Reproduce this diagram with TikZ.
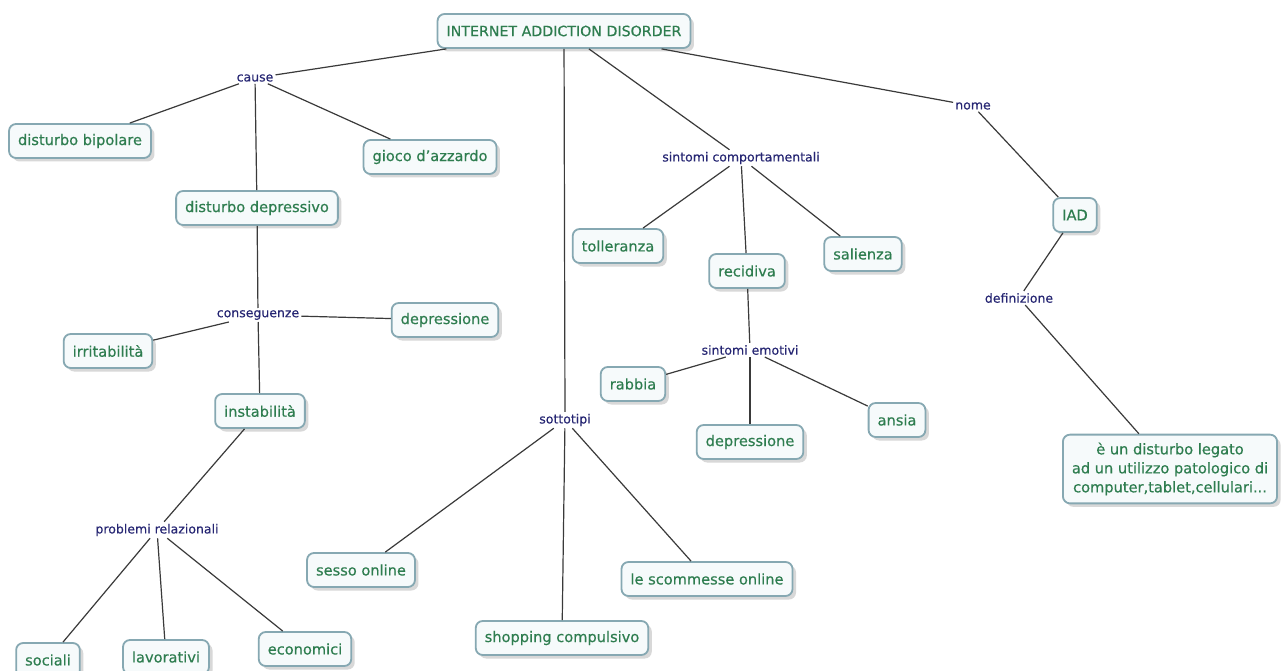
\documentclass[tikz,border=0pt]{standalone}
\usepackage{fontspec}
\setmainfont{DejaVu Sans}
\newfontfamily\conceptfont{DejaVu Sans}[FakeBold=0.5]
\newfontfamily\linkfont{DejaVu Sans}[FakeBold=0.3]
\usepackage{tikz}
\usetikzlibrary{positioning,shadows}
\definecolor{boxline}{HTML}{86A8B2}
\definecolor{boxfill}{HTML}{F6FAFB}
\definecolor{conceptgreen}{HTML}{2E7D4F}
\definecolor{linknavy}{HTML}{262673}
\definecolor{edgegray}{HTML}{3A3A3A}
\tikzset{main concept/.style={rectangle,rounded corners=7pt,draw=boxline,line width=1.8pt,fill=boxfill,text=conceptgreen,font=\conceptfont\fontsize{14.6}{19}\selectfont,minimum height=34pt,inner xsep=9pt,inner ysep=5pt,drop shadow={shadow xshift=3.5pt,shadow yshift=-3.5pt,fill=gray!60}},}
\tikzset{main link/.style={rectangle,text=linknavy,font=\linkfont\fontsize{12.5}{15}\selectfont,inner sep=2pt},}

\begin{document}
\begin{tikzpicture}[x=1pt,y=-1pt]
    \useasboundingbox[fill=white] (0,0) rectangle (1285,671);
    \node[main concept,font=\conceptfont\fontsize{14.2}{19}\selectfont] (root) at (564,31) {INTERNET ADDICTION DISORDER};
    \node[main link] (cause) at (255,78) {cause};
    \node[main concept] (bipolare) at (80,141) {disturbo bipolare};
    \node[main concept] (azzardo) at (430,157) {gioco d’azzardo};
    \node[main concept] (depressivo) at (257,208) {disturbo depressivo};
    \node[main link] (conseguenze) at (258,315) {conseguenze};
    \node[main concept] (depressione1) at (445,320) {depressione};
    \node[main concept] (irritabilita) at (108,351) {irritabilità};
    \node[main concept] (instabilita) at (260,411) {instabilità};
    \node[main link] (problemi) at (157,530) {problemi relazionali};
    \node[main concept] (sociali) at (48,660) {sociali};
    \node[main concept] (lavorativi) at (166,657) {lavorativi};
    \node[main concept] (economici) at (305,649) {economici};

    \node[main link] (sottotipi) at (565,420) {sottotipi};
    \node[main concept] (sesso) at (361,570) {sesso online};
    \node[main concept] (shopping) at (562,638) {shopping compulsivo};
    \node[main concept] (scommesse) at (707,579) {le scommesse online};

    \node[main link] (comportamentali) at (741,158) {sintomi comportamentali};
    \node[main concept] (tolleranza) at (618,246) {tolleranza};
    \node[main concept] (recidiva) at (747,271) {recidiva};
    \node[main concept] (salienza) at (863,254) {salienza};
    \node[main link] (emotivi) at (750,350) {sintomi emotivi};
    \node[main concept] (rabbia) at (633,384) {rabbia};
    \node[main concept] (depressione2) at (750,442) {depressione};
    \node[main concept] (ansia) at (897,420) {ansia};

    \node[main link] (nome) at (973,106) {nome};
    \node[main concept] (iad) at (1075,215) {IAD};
    \node[main link] (definizione) at (1019,298) {definizione};
    \node[main concept,align=center,inner ysep=8pt] (testo) at (1170,469) {è un disturbo legato\\ad un utilizzo patologico di\\computer,tablet,cellulari...};

    \begin{scope}[edgegray,line width=1.2pt]
    \path[-] (root) edge (cause);
    \path[-] (cause) edge (bipolare);
    \path[-] (cause) edge (azzardo);
    \path[-] (cause) edge (depressivo);
    \path[-] (depressivo) edge (conseguenze);
    \path[-] (conseguenze) edge (depressione1);
    \path[-] (conseguenze) edge (irritabilita);
    \path[-] (conseguenze) edge (instabilita);
    \path[-] (instabilita) edge (problemi);
    \path[-] (problemi) edge (sociali);
    \path[-] (problemi) edge (lavorativi);
    \path[-] (problemi) edge (economici);

    \path[-] (root) edge (sottotipi);
    \path[-] (sottotipi) edge (sesso);
    \path[-] (sottotipi) edge (shopping);
    \path[-] (sottotipi) edge (scommesse);

    \path[-] (root) edge (comportamentali);
    \path[-] (comportamentali) edge (tolleranza);
    \path[-] (comportamentali) edge (recidiva);
    \path[-] (comportamentali) edge (salienza);
    \path[-] (recidiva) edge (emotivi);
    \path[-] (emotivi) edge (rabbia);
    \path[-] (emotivi) edge (depressione2);
    \path[-] (emotivi) edge (ansia);

    \path[-] (root) edge (nome);
    \path[-] (nome) edge (iad);
    \path[-] (iad) edge (definizione);
    \path[-] (definizione) edge (testo);
    \end{scope}
\end{tikzpicture}
\end{document}
